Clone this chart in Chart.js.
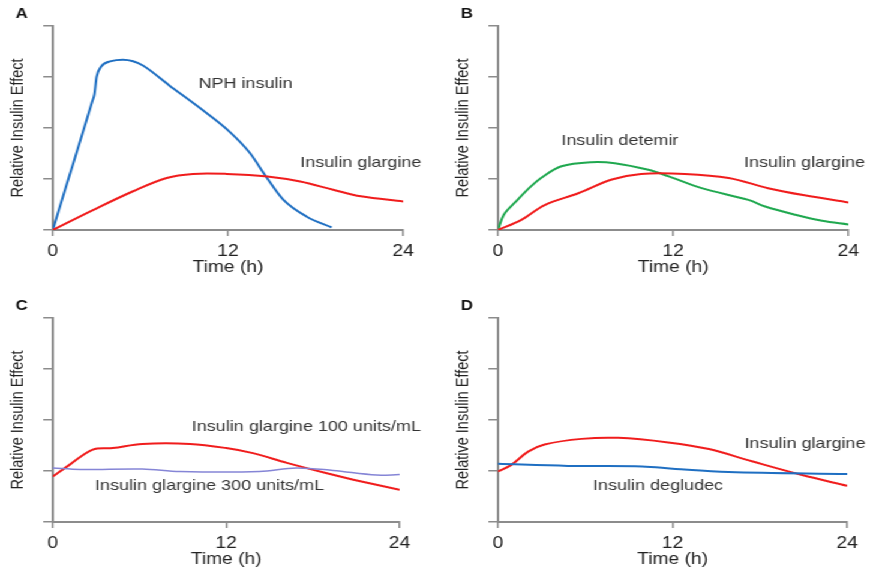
<!DOCTYPE html>
<html>
<head>
<meta charset="utf-8">
<script src="https://cdn.jsdelivr.net/npm/chart.js@4.4.1/dist/chart.umd.min.js"></script>
<style>
    html, body { margin: 0; padding: 0; background: #fff; }
    /* the source figure is stretched horizontally, so the whole sheet is too */
    #sheet { position: relative; width: 724px; height: 575px; transform: scaleX(1.2); transform-origin: 0 0; }
    #sheet canvas { position: absolute; }
</style>
</head>
<body>
<div id="sheet">
    <canvas id="panelA" width="370" height="292" style="left:0;top:0"></canvas>
    <canvas id="panelB" width="353" height="292" style="left:371px;top:0"></canvas>
    <canvas id="panelC" width="370" height="283" style="left:0;top:292px"></canvas>
    <canvas id="panelD" width="353" height="283" style="left:371px;top:292px"></canvas>
</div>
<script>
// Time axis ticks (h) and y axis range (relative units, unlabeled)
const timeTicks = [0, 12, 24];
const effectMax = 4;

// Panel A
const nphTime = [0, 0.95, 1.9, 2.7, 2.85, 3.0, 3.3, 4.0, 4.8, 5.5, 6.2, 8, 9.9, 12.1, 13.5, 14.6, 15.8, 17.4, 19.1];
const nphEffect = [0, 0.89, 1.77, 2.52, 2.66, 3.0, 3.2, 3.31, 3.34, 3.31, 3.22, 2.83, 2.43, 1.93, 1.51, 1.05, 0.59, 0.26, 0.05];
const glargineATime = [0, 2.75, 5.5, 7.8, 9.6, 11.9, 14.7, 16.95, 19.2, 21.1, 24];
const glargineAEffect = [0, 0.39, 0.76, 1.02, 1.10, 1.10, 1.05, 0.95, 0.79, 0.66, 0.56];

// Panel B
const detemirTime = [0, 0.4, 1.2, 2.2, 3.0, 4.35, 6.4, 8.0, 10.3, 11.7, 13.95, 17.15, 18.3, 20.35, 22.2, 24];
const detemirEffect = [0, 0.3, 0.55, 0.84, 1.03, 1.25, 1.33, 1.31, 1.18, 1.05, 0.82, 0.59, 0.46, 0.30, 0.18, 0.11];
const glargineBTime = [0, 1.6, 3.2, 5.5, 7.8, 9.8, 12.8, 15.8, 18.5, 21, 24];
const glargineBEffect = [0, 0.2, 0.49, 0.72, 0.99, 1.10, 1.10, 1.02, 0.82, 0.68, 0.54];

// Panel C
const glargine100Time = [0, 1.15, 2.77, 4.15, 6.2, 9.5, 12, 13.85, 16.2, 18.9, 20.8, 24];
const glargine100Effect = [0.89, 1.12, 1.42, 1.45, 1.53, 1.53, 1.45, 1.35, 1.16, 0.96, 0.83, 0.63];
const glargine300Time = [0, 1.9, 6.2, 8.8, 14.3, 16.85, 19.4, 22.4, 24];
const glargine300Effect = [1.06, 1.03, 1.04, 0.99, 0.99, 1.06, 1.01, 0.92, 0.93];

// Panel D
const glargineDTime = [0, 0.92, 2.07, 3.2, 5.74, 8.26, 11.7, 14.5, 17.45, 20.9, 24];
const glargineDEffect = [0.99, 1.12, 1.38, 1.52, 1.63, 1.65, 1.56, 1.43, 1.19, 0.92, 0.71];
const degludecTime = [0, 4.8, 9.9, 12.2, 15.85, 24];
const degludecEffect = [1.14, 1.10, 1.09, 1.04, 0.98, 0.94];

const FONT = "'Liberation Sans', Arial, Helvetica, sans-serif";
const AXIS_GRAY = '#8c8c8c';
const TEXT_GRAY = '#333';

Chart.defaults.font.family = FONT;
Chart.defaults.color = TEXT_GRAY;

function points(xs, ys) {
    return xs.map((x, i) => ({ x: x, y: ys[i] }));
}

function line(xs, ys, color, width, monotone) {
    const ds = {
        data: points(xs, ys),
        borderColor: color,
        borderWidth: width || 2,
        pointRadius: 0,
        tension: 0.35,
        fill: false
    };
    if (monotone) ds.cubicInterpolationMode = 'monotone';
    return ds;
}

// draws the panel letter and the curve labels
const panelText = {
    id: 'panelText',
    afterDatasetsDraw(chart, args, opts) {
        const ctx = chart.ctx;
        const xs = chart.scales.x, ys = chart.scales.y;
        ctx.save();
        ctx.fillStyle = '#111';
        ctx.font = 'bold 14px ' + FONT;
        ctx.textAlign = 'center';
        ctx.textBaseline = 'middle';
        ctx.fillText(opts.letter, chart.chartArea.left - 26, 14);
        ctx.fillStyle = TEXT_GRAY;
        ctx.font = '15px ' + FONT;
        (opts.labels || []).forEach(l => {
            ctx.fillText(l.text, xs.getPixelForValue(l.x), ys.getPixelForValue(l.y));
        });
        ctx.restore();
    }
};

function makePanel(id, letter, datasets, labels, padRight, padBottom) {
    const ctx = document.getElementById(id).getContext('2d');
    return new Chart(ctx, {
        type: 'line',
        data: { datasets: datasets },
        plugins: [panelText],
        options: {
            responsive: false,
            animation: false,
            layout: { padding: { left: 0, top: 26, right: padRight, bottom: padBottom } },
            scales: {
                x: {
                    type: 'linear',
                    min: 0,
                    max: 24,
                    afterBuildTicks: scale => { scale.ticks = timeTicks.map(v => ({ value: v })); },
                    afterFit: scale => { scale.height = 50; },
                    ticks: { color: '#222', font: { size: 16 }, padding: 6 },
                    grid: { drawOnChartArea: false, drawTicks: true, tickLength: 6, color: AXIS_GRAY, lineWidth: 1.5 },
                    border: { color: AXIS_GRAY, width: 2 },
                    title: { display: true, text: 'Time (h)', color: '#222', font: { size: 16 }, padding: { top: 0, bottom: 3 } }
                },
                y: {
                    min: 0,
                    max: effectMax,
                    ticks: { display: false, stepSize: 1 },
                    afterFit: scale => { scale.width = 44; },
                    grid: { drawOnChartArea: false, drawTicks: true, tickLength: 8, color: AXIS_GRAY, lineWidth: 1.5 },
                    border: { color: AXIS_GRAY, width: 2 },
                    title: { display: true, text: 'Relative Insulin Effect', color: '#222', font: { size: 14.5 }, padding: { top: 6, bottom: 0 } }
                }
            },
            plugins: {
                legend: { display: false },
                tooltip: { enabled: false },
                panelText: { letter: letter, labels: labels }
            }
        }
    });
}

const BLUE = '#1f6fc2';
const RED = '#f01c1c';
const GREEN = '#1fa84f';
const PURPLE = '#8585d6';

makePanel('panelA', 'A', [
    line(glargineATime, glargineAEffect, RED),
    line(nphTime, nphEffect, BLUE, 2, true)
], [
    { text: 'NPH insulin', x: 13.2, y: 2.86 },
    { text: 'Insulin glargine', x: 21.1, y: 1.32 }
], 34, 12);

makePanel('panelB', 'B', [
    line(glargineBTime, glargineBEffect, RED),
    line(detemirTime, detemirEffect, GREEN)
], [
    { text: 'Insulin detemir', x: 8.35, y: 1.74 },
    { text: 'Insulin glargine', x: 21.0, y: 1.32 }
], 17, 12);

makePanel('panelC', 'C', [
    line(glargine300Time, glargine300Effect, PURPLE, 1.5),
    line(glargine100Time, glargine100Effect, RED)
], [
    { text: 'Insulin glargine 100 units/mL', x: 17.55, y: 1.87 },
    { text: 'Insulin glargine 300 units/mL', x: 10.85, y: 0.70 }
], 37, 3);

makePanel('panelD', 'D', [
    line(degludecTime, degludecEffect, BLUE),
    line(glargineDTime, glargineDEffect, RED)
], [
    { text: 'Insulin glargine', x: 21.1, y: 1.53 },
    { text: 'Insulin degludec', x: 11.0, y: 0.70 }
], 18, 3);
</script>
</body>
</html>
